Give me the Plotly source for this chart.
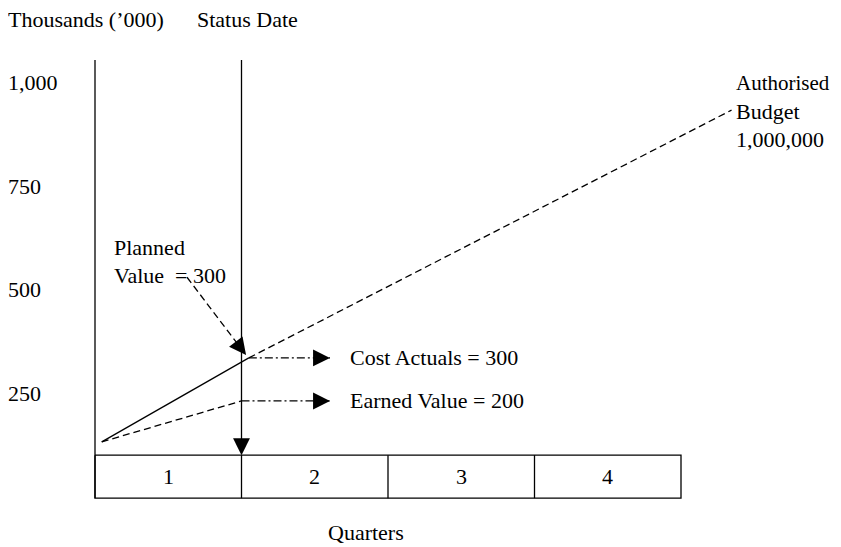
import math
import plotly.graph_objects as go

# ---------------- data ----------------
quarters = [1, 2, 3, 4]                      # quarter cells along the bottom
y_ticks = [250, 500, 750, 1000]              # thousands
y_tick_labels = ["250", "500", "750", "1,000"]

status_q = 1.0                               # status date (end of quarter 1)
axis_top = 1055                              # top of the two vertical lines
box_top, box_bottom = 100, -4                # quarter strip

pv_x = [0.046, 1.05]                         # planned value line (solid)
pv_y = [132, 335]
budget_x = [1.05, 4.345]                     # forecast to authorised budget (dashed)
budget_y = [335, 934]
ev_x = [0.046, 1.0]                          # earned value line (dashed)
ev_y = [132, 231]

callout_x = [1.05, 1.604]                    # cost actuals call-out
callout_ca_y = 335
callout_ev_x = [1.0, 1.604]                  # earned value call-out
callout_ev_y = 231
pv_arrow_x = [0.628, 1.031]                  # planned value pointer
pv_arrow_y = [530, 342]

cost_actuals, earned_value, planned_value = 300, 200, 300

FONT = dict(family="Liberation Serif, Times New Roman, serif", size=22, color="black")
# the page body adds an 8px margin, so the figure is drawn 8px in from the corner
W, H = 833, 539
PX_Q = 146.5          # pixels per quarter
PX_V = 0.4137         # pixels per thousand
X0, Y0 = 87, 488.5    # figure pixel of (quarter 0, value 0)
XR = [-X0 / PX_Q, (W - X0) / PX_Q]
YR = [(Y0 - H) / PX_V, Y0 / PX_V]
LW = 1.3
DASH = "7px,4px"
DASHDOT = "8px,3px,2px,3px"

fig = go.Figure()

def line(x, y, dash="solid", width=LW):
    fig.add_trace(go.Scatter(x=x, y=y, mode="lines", hoverinfo="skip",
                             line=dict(color="black", width=width, dash=dash)))

# vertical axis and status-date line
line([0, 0], [box_bottom, axis_top])
line([status_q, status_q], [box_top + 20, axis_top])

# quarter strip
line([0, 4, 4, 0, 0], [box_top, box_top, box_bottom, box_bottom, box_top])
for q in quarters[:-1]:
    line([q, q], [box_bottom, box_top])

# value lines
line(pv_x, pv_y)
line(budget_x, budget_y, dash=DASH)
line(ev_x, ev_y, dash=DASH)

# call-outs
line(callout_x, [callout_ca_y, callout_ca_y], dash=DASHDOT)
line(callout_ev_x, [callout_ev_y, callout_ev_y], dash=DASHDOT)
line(pv_arrow_x, pv_arrow_y, dash=DASH)

def head(x, y, dx_px, dy_px):
    L = 18
    n = math.hypot(dx_px, dy_px)
    fig.add_annotation(x=x, y=y, xref="x", yref="y", text="", showarrow=True,
                       ax=-L * dx_px / n, ay=-L * dy_px / n,
                       arrowhead=2, arrowsize=2.6, arrowwidth=LW,
                       arrowcolor="black", standoff=0, startstandoff=0)

head(status_q, box_top, 0, 1)
head(callout_x[1], callout_ca_y, 1, 0)
head(callout_ev_x[1], callout_ev_y, 1, 0)
head(pv_arrow_x[1], pv_arrow_y[1],
     (pv_arrow_x[1] - pv_arrow_x[0]) * PX_Q,
     -(pv_arrow_y[1] - pv_arrow_y[0]) * PX_V)

def text(t, x, y, xanchor="left", xref="x", xshift=0, size=22):
    fig.add_annotation(x=x, y=y, xref=xref, yref="y", text=t, showarrow=False,
                       xanchor=xanchor, yanchor="middle",
                       font=dict(FONT, size=size), xshift=xshift)

# y tick labels
for v, lab in zip(y_ticks, y_tick_labels):
    text(lab, 0, v, xref="paper", xshift=-2)

# quarter numbers
for q in quarters:
    text(str(q), q - 0.5, (box_top + box_bottom) / 2, xanchor="center")

text("Thousands (\u2019000)", 0, 1152, xref="paper", xshift=-2)
text("Status Date", 0.683, 1152)
text("Quarters", 1.85, -88, xanchor="center")
text("Planned", 0.116, 603)
text("Value\u00a0 = %d" % planned_value, 0.116, 535)
text("Cost Actuals = %d" % cost_actuals, 1.727, callout_ca_y)
text("Earned Value = %d" % earned_value, 1.727, callout_ev_y)
text("Authorised", 4.375, 999, xshift=-2, size=21)
text("Budget", 4.375, 931, xshift=-2)
text("1,000,000", 4.375, 864, xshift=-2)

fig.update_layout(
    width=W, height=H, margin=dict(l=0, r=0, t=0, b=0),
    paper_bgcolor="white", plot_bgcolor="white", showlegend=False,
    xaxis=dict(range=XR, visible=False, fixedrange=True),
    yaxis=dict(range=YR, visible=False, fixedrange=True),
)

fig.write_html("out.html")
